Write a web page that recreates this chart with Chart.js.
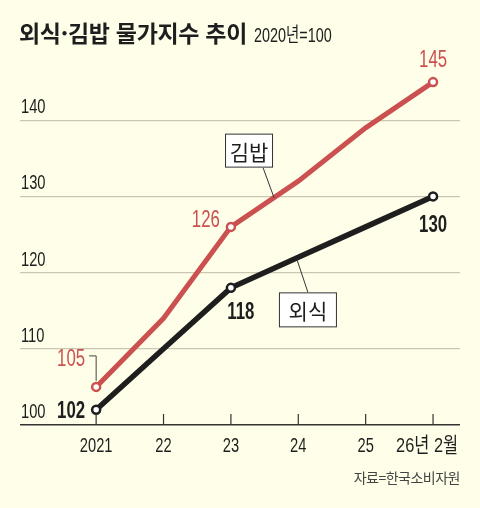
<!DOCTYPE html>
<html lang="ko">
<head>
<meta charset="utf-8">
<title>외식·김밥 물가지수 추이</title>
<script src="https://cdn.jsdelivr.net/npm/chart.js@4"></script>
<style>
    html, body { margin: 0; padding: 0; background: #fefee9; }
    .wrap { position: relative; width: 480px; height: 508px; background: #fefee9; overflow: hidden; }
    canvas { position: absolute; left: 0; top: 0; }
    .title { position: absolute; left: 19px; top: 15px; white-space: nowrap; color: #1e1e1e; }
    .title b { font: bold 23px "Noto Sans CJK KR", sans-serif; letter-spacing: -0.3px; }
    .title span { display: inline-block; font: 20px "Liberation Sans", "Noto Sans CJK KR", sans-serif;
        transform: scaleX(0.72); transform-origin: left center; margin-left: 7px; }
    .source { position: absolute; right: 20px; top: 467px; font: 14px "Noto Sans CJK KR", sans-serif; color: #444; letter-spacing: -0.5px; }
</style>
</head>
<body>
<div class="wrap">
    <canvas id="chart" width="480" height="508"></canvas>
    <div class="title"><b>외식·김밥 물가지수 추이</b><span>2020년=100</span></div>
    <div class="source">자료=한국소비자원</div>
</div>
<script>
const years = ['2021', '22', '23', '24', '25', '26년 2월'];
const gimbap = [105, 114, 126, 132, 139, 145];
const eatingOut = [102, 110, 118, 122, 126, 130];
const yTicks = [100, 110, 120, 130, 140];

const RED = '#cb5150';
const BLACK = '#1e1e1e';
const FONT = '"Liberation Sans", "Noto Sans CJK KR", sans-serif';
const SQUEEZE = 0.7;

// which points get a value label
const labelled = [0, 2, 5];

function toPoints(values) {
    return values.map((v, i) => ({ x: i, y: v }));
}

// condensed text: the original uses a narrow face we don't have
function narrow(ctx, text, x, y, align, squeeze) {
    ctx.save();
    ctx.translate(x, y);
    ctx.scale(squeeze || SQUEEZE, 1);
    ctx.textAlign = align;
    ctx.textBaseline = 'alphabetic';
    ctx.fillText(text, 0, 0);
    ctx.restore();
}

const extras = {
    id: 'extras',
    afterDatasetsDraw(chart) {
        const ctx = chart.ctx;
        const xs = chart.scales.x;
        const ys = chart.scales.y;
        const area = chart.chartArea;
        const gx = i => xs.getPixelForValue(i);
        const gy = v => ys.getPixelForValue(v);

        ctx.save();

        // y labels sit above their grid lines
        ctx.fillStyle = BLACK;
        ctx.font = '21px ' + FONT;
        yTicks.forEach(v => narrow(ctx, String(v), area.left + 1, gy(v) - 7, 'left'));

        // x labels and the small ticks standing up from the base line
        ctx.strokeStyle = '#333';
        ctx.lineWidth = 1.2;
        years.forEach((label, i) => {
            const px = gx(i);
            ctx.beginPath();
            ctx.moveTo(px, area.bottom - 11);
            ctx.lineTo(px, area.bottom);
            ctx.stroke();
            const last = i === years.length - 1;
            narrow(ctx, label, last ? px - 6 : px, area.bottom + 27, 'center', last ? 0.78 : SQUEEZE);
        });

        // value labels, 김밥
        ctx.fillStyle = RED;
        ctx.font = '24px ' + FONT;
        narrow(ctx, String(gimbap[0]), gx(0) - 11, gy(gimbap[0]) - 21, 'right');
        narrow(ctx, String(gimbap[2]), gx(2) - 11, gy(gimbap[2]), 'right');
        narrow(ctx, String(gimbap[5]), gx(5), gy(gimbap[5]) - 15, 'center');

        // bracket from 105 down to its point
        ctx.strokeStyle = '#444';
        ctx.lineWidth = 1;
        ctx.beginPath();
        ctx.moveTo(gx(0) - 7, gy(gimbap[0]) - 31);
        ctx.lineTo(gx(0), gy(gimbap[0]) - 31);
        ctx.lineTo(gx(0), gy(gimbap[0]) - 6);
        ctx.stroke();

        // value labels, 외식
        ctx.fillStyle = BLACK;
        ctx.font = 'bold 24px ' + FONT;
        narrow(ctx, String(eatingOut[0]), gx(0) - 11, gy(eatingOut[0]) + 8, 'right');
        narrow(ctx, String(eatingOut[2]), gx(2) + 10, gy(eatingOut[2]) + 31, 'center');
        narrow(ctx, String(eatingOut[5]), gx(5), gy(eatingOut[5]) + 36, 'center');

        // callout boxes
        function callout(text, ax, ay, bx, by, bw, bh, lx) {
            ctx.strokeStyle = '#333';
            ctx.lineWidth = 1;
            ctx.beginPath();
            ctx.moveTo(ax, ay);
            ctx.lineTo(lx, by < ay ? by + bh : by);
            ctx.stroke();
            ctx.fillStyle = '#fff';
            ctx.fillRect(bx, by, bw, bh);
            ctx.strokeRect(bx + 0.5, by + 0.5, bw - 1, bh - 1);
            ctx.fillStyle = BLACK;
            ctx.font = '21px "Noto Sans CJK KR", sans-serif';
            ctx.textAlign = 'center';
            ctx.textBaseline = 'middle';
            ctx.fillText(text, bx + bw / 2, by + bh / 2 + 1);
        }
        const gAx = gx(2.64);
        const gAy = gy(gimbap[2] + 0.64 * (gimbap[3] - gimbap[2]));
        callout('김밥', gAx, gAy, gAx - 49, gAy - 64, 48, 34, gAx - 11);

        const eAx = gx(2.98);
        const eAy = gy(eatingOut[3]) + 2;
        callout('외식', eAx, eAy, eAx - 18, eAy + 33, 58, 35, eAx + 11);

        ctx.restore();
    }
};

const ctx = document.getElementById('chart').getContext('2d');
const chart = new Chart(ctx, {
    type: 'line',
    data: {
        datasets: [
            {
                label: '김밥',
                data: toPoints(gimbap),
                borderColor: RED,
                backgroundColor: '#fff',
                borderWidth: 5,
                pointBorderWidth: 2.5,
                pointBorderColor: RED,
                pointBackgroundColor: '#fff',
                pointRadius: c => labelled.includes(c.dataIndex) ? 4 : 0
            },
            {
                label: '외식',
                data: toPoints(eatingOut),
                borderColor: BLACK,
                backgroundColor: '#fff',
                borderWidth: 5.5,
                pointBorderWidth: 2.5,
                pointBorderColor: BLACK,
                pointBackgroundColor: '#fff',
                pointRadius: c => labelled.includes(c.dataIndex) ? 4 : 0
            }
        ]
    },
    options: {
        responsive: false,
        animation: false,
        events: [],
        layout: { padding: { left: 20, right: 20, top: 44, bottom: 23 } },
        plugins: {
            legend: { display: false },
            tooltip: { enabled: false },
            title: { display: false }
        },
        scales: {
            x: {
                type: 'linear',
                min: -1.13,
                max: 5.4,
                afterBuildTicks: s => { s.ticks = years.map((_, i) => ({ value: i })); },
                afterFit: s => { s.height = 60; s.paddingLeft = 0; s.paddingRight = 0; },
                grid: { display: false },
                border: { display: false },
                ticks: { display: false }
            },
            y: {
                min: 100,
                max: 150,
                afterBuildTicks: s => { s.ticks = yTicks.map(v => ({ value: v })); },
                afterFit: s => { s.width = 0; s.paddingTop = 0; s.paddingBottom = 0; },
                grid: {
                    drawTicks: false,
                    color: c => c.tick && c.tick.value === 100 ? '#333' : '#c9c6b2',
                    lineWidth: c => c.tick && c.tick.value === 100 ? 1.5 : 1.2
                },
                border: { display: false },
                ticks: { display: false }
            }
        }
    },
    plugins: [extras]
});
</script>
</body>
</html>
